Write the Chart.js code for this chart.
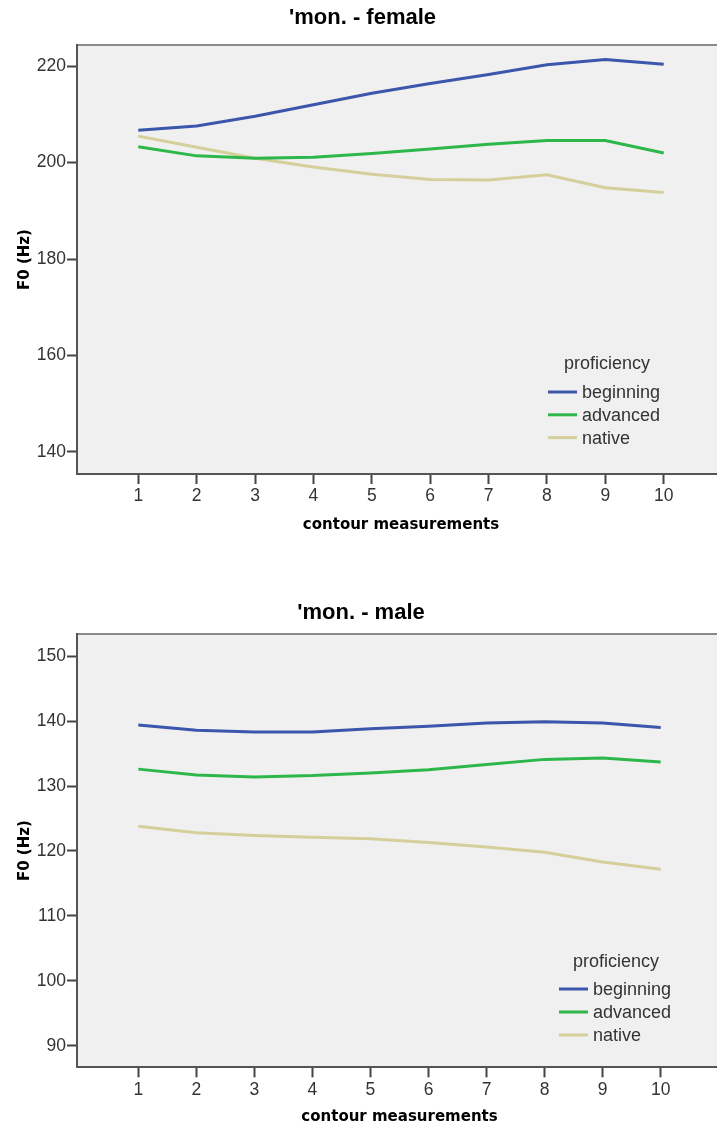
<!DOCTYPE html>
<html>
<head>
<meta charset="utf-8">
<script src="https://cdn.jsdelivr.net/npm/chart.js@4.4.0/dist/chart.umd.min.js"></script>
<style>
  html, body { margin: 0; padding: 0; background: #fff; overflow: hidden; }
  .panel { position: absolute; left: 0; width: 717px; overflow: hidden; }
</style>
</head>
<body>
<div class="panel" style="top:0;height:560px"><canvas id="femaleChart" width="736" height="560"></canvas></div>
<div class="panel" style="top:560px;height:569px"><canvas id="maleChart" width="736" height="569"></canvas></div>
<script>
// contour measurement points (x axis)
const measurements = [1, 2, 3, 4, 5, 6, 7, 8, 9, 10];
const groups = ['beginning', 'advanced', 'native'];
const groupColors = ['#3C56AB', '#2DB74B', '#D5CF9B'];

// F0 (Hz), female speakers
const femaleBeginning = [206.7, 207.6, 209.6, 212.0, 214.4, 216.4, 218.3, 220.3, 221.4, 220.4];
const femaleAdvanced  = [203.3, 201.4, 200.9, 201.1, 201.9, 202.8, 203.8, 204.6, 204.6, 202.0];
const femaleNative    = [205.5, 203.2, 200.9, 199.1, 197.6, 196.5, 196.4, 197.5, 194.8, 193.8];

// F0 (Hz), male speakers
const maleBeginning = [139.4, 138.6, 138.3, 138.3, 138.8, 139.2, 139.7, 139.9, 139.7, 139.0];
const maleAdvanced  = [132.6, 131.7, 131.4, 131.6, 132.0, 132.5, 133.3, 134.1, 134.3, 133.7];
const maleNative    = [123.8, 122.8, 122.4, 122.1, 121.9, 121.3, 120.6, 119.8, 118.3, 117.2];

const femaleTicks = [140, 160, 180, 200, 220];
const maleTicks = [90, 100, 110, 120, 130, 140, 150];

Chart.defaults.font.family = 'Arial, "Liberation Sans", sans-serif';

// grey plot background + frame, and the legend inside the plot
const spssFrame = {
  id: 'spssFrame',
  beforeDraw(chart) {
    const { ctx, chartArea: a } = chart;
    ctx.save();
    ctx.fillStyle = '#F0F0F0';
    ctx.fillRect(a.left, a.top, a.right - a.left, a.bottom - a.top);
    ctx.strokeStyle = '#666';
    ctx.lineWidth = 1.5;
    ctx.beginPath();
    ctx.moveTo(a.left, a.top);
    ctx.lineTo(a.right, a.top);
    ctx.lineTo(a.right, a.bottom);
    ctx.stroke();
    ctx.restore();
  },
  afterDatasetsDraw(chart, args, opts) {
    const { ctx } = chart;
    ctx.save();
    ctx.font = '18px Arial, "Liberation Sans", sans-serif';
    ctx.fillStyle = '#333';
    ctx.textBaseline = 'middle';
    ctx.textAlign = 'center';
    ctx.fillText(opts.title, opts.titleX, opts.titleY);
    ctx.textAlign = 'left';
    chart.data.datasets.forEach((ds, i) => {
      const y = opts.y + i * opts.step;
      ctx.strokeStyle = ds.borderColor;
      ctx.lineWidth = 3;
      ctx.beginPath();
      ctx.moveTo(opts.x, y);
      ctx.lineTo(opts.x + 29, y);
      ctx.stroke();
      ctx.fillText(ds.label, opts.x + 34, y + 1);
    });
    ctx.restore();
  }
};

function makeChart(id, cfg) {
  new Chart(document.getElementById(id), {
    type: 'line',
    data: {
      labels: measurements,
      datasets: cfg.series.map((s, i) => ({
        label: groups[i],
        data: measurements.map((m, j) => ({ x: m, y: s[j] })),
        borderColor: groupColors[i],
        backgroundColor: groupColors[i],
        borderWidth: 3,
        pointRadius: 0,
        tension: 0,
        fill: false
      }))
    },
    options: {
      responsive: false,
      animation: false,
      devicePixelRatio: 1,
      layout: { padding: { left: 0, right: cfg.padRight, top: 0, bottom: 0 } },
      scales: {
        x: {
          type: 'linear',
          min: cfg.xMin,
          max: cfg.xMax,
          afterBuildTicks: s => { s.ticks = measurements.map(v => ({ value: v })); },
          afterFit: s => { s.height = cfg.xAxisHeight; },
          grid: { drawOnChartArea: false, drawTicks: true, tickLength: 10, tickColor: '#444', tickWidth: 2 },
          border: { display: true, color: '#555', width: 2 },
          ticks: { color: '#333', font: { size: 17.5 }, padding: cfg.xTickPad, maxRotation: 0 },
          title: {
            display: true,
            text: 'contour measurements',
            color: '#000',
            font: { family: '"DejaVu Sans", Verdana, sans-serif', size: 15, weight: 'bold' },
            padding: { top: 0, bottom: cfg.xTitlePad }
          }
        },
        y: {
          min: cfg.yMin,
          max: cfg.yMax,
          afterBuildTicks: s => { s.ticks = cfg.yTicks.map(v => ({ value: v })); },
          afterFit: s => { s.width = 77; },
          grid: { drawOnChartArea: false, drawTicks: true, tickLength: 10, tickColor: '#444', tickWidth: 2 },
          border: { display: true, color: '#555', width: 2 },
          ticks: { color: '#333', font: { size: 17.5 }, padding: 1 },
          title: {
            display: true,
            text: 'F0 (Hz)',
            color: '#000',
            font: { family: '"DejaVu Sans", Verdana, sans-serif', size: 15, weight: 'bold' },
            padding: { top: 16, bottom: 0 }
          }
        }
      },
      plugins: {
        legend: { display: false },
        tooltip: { enabled: false },
        title: {
          display: true,
          text: cfg.title,
          color: '#000',
          font: { size: 22, weight: 'bold' },
          padding: { top: cfg.titlePadTop, bottom: cfg.titlePadBottom }
        },
        spssFrame: cfg.legend
      }
    },
    plugins: [spssFrame]
  });
}

makeChart('femaleChart', {
  title: "'mon. - female",
  series: [femaleBeginning, femaleAdvanced, femaleNative],
  yTicks: femaleTicks,
  yMin: 135.4, yMax: 224.4,
  xMin: -0.05, xMax: 11.05,
  padRight: 11,
  xAxisHeight: 86,
  xTickPad: 2,
  xTitlePad: 25.5,
  titlePadTop: 4.8,
  titlePadBottom: 13.8,
  legend: { title: 'proficiency', titleX: 607, titleY: 364, x: 548, y: 392, step: 22.8 }
});

makeChart('maleChart', {
  title: "'mon. - male",
  series: [maleBeginning, maleAdvanced, maleNative],
  yTicks: maleTicks,
  yMin: 86.7, yMax: 153.4,
  xMin: -0.056, xMax: 11.056,
  padRight: 14,
  xAxisHeight: 61.7,
  xTickPad: 2,
  xTitlePad: 3,
  titlePadTop: 39.8,
  titlePadBottom: 7.8,
  legend: { title: 'proficiency', titleX: 616, titleY: 402, x: 559, y: 429, step: 23 }
});
</script>
</body>
</html>
